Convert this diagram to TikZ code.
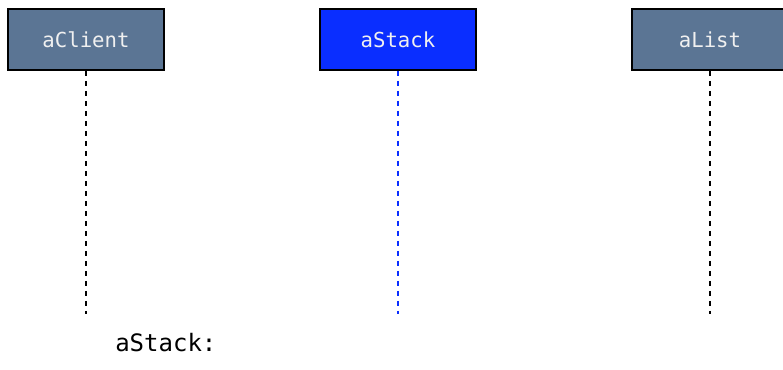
\documentclass[tikz,border=0pt]{standalone}
\usepackage{fontspec}
\setmonofont{DejaVu Sans Mono}
\usepackage{tikz}
\usetikzlibrary{positioning}
\usepackage{xcolor}
\definecolor{objslate}{HTML}{5B7594}
\definecolor{objblue}{HTML}{0A2EFF}

\begin{document}
\begin{tikzpicture}[
  x=0.75pt, y=-0.75pt,
  font=\ttfamily,
  obj/.style={draw=black, line width=1.5pt, fill=objslate, text=white!94!black,
              minimum width=117pt, minimum height=45.7pt, inner sep=0pt,
              font=\ttfamily\fontsize{15.5}{18}\selectfont},
  act/.style={obj, fill=objblue},
  life/.style={line width=1.6pt, dash pattern=on 3.8pt off 3.7pt},
  lbl/.style={inner sep=0pt, font=\ttfamily\fontsize{18}{21}\selectfont}
]
\useasboundingbox (0,0) rectangle (783,369);

% ---- objects ----
\node[obj] (client) at (86, 39.5)  {aClient};
\node[act] (stack)  at (398, 39.5) {aStack};
\node[obj] (list)   at (710, 39.5) {aList};

% ---- lifelines ----
\coordinate (clientEnd) at (86, 314);
\coordinate (stackEnd)  at (398, 314);
\coordinate (listEnd)   at (710, 314);
\draw[life]            (client.south) -- (clientEnd);
\draw[life, objblue]   (stack.south)  -- (stackEnd);
\draw[life]            (list.south)   -- (listEnd);

\node[lbl, anchor=base west] (cur) at (115, 351) {aStack:};
\end{tikzpicture}
\end{document}
